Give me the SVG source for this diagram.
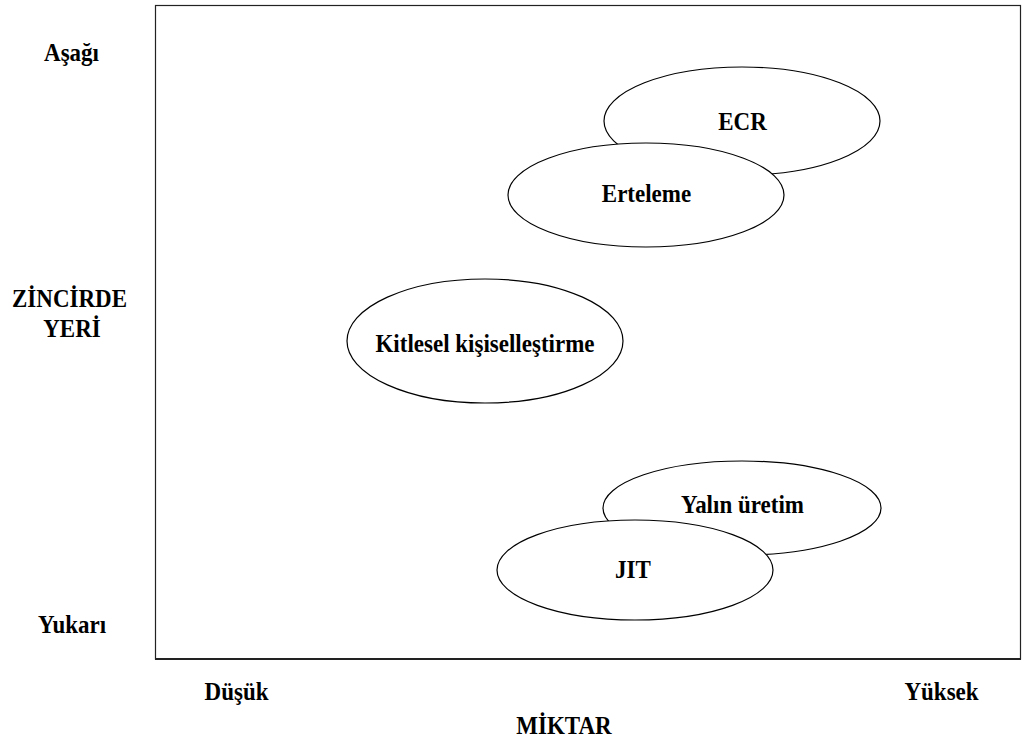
<svg xmlns="http://www.w3.org/2000/svg" width="1025" height="744" viewBox="0 0 1025 744">
  <style>
    text { font-family: "Liberation Serif", "Times New Roman", serif; font-weight: 700; font-size: 25px; fill: #000; text-anchor: middle; }
    .bubble { fill: #fff; stroke: #000; stroke-width: 1.2; }
    .frame { fill: none; stroke: #222; stroke-width: 1.2; }
  </style>
  <rect width="1025" height="744" fill="#fff"/>

  <!-- plot frame -->
  <g id="frame">
    <rect class="frame" x="155.5" y="5.5" width="865" height="653.5"/>
    <line x1="155" y1="659" x2="1021" y2="659" stroke="#222" stroke-width="2"/>
  </g>

  <!-- axis labels (slightly condensed bold serif) -->
  <g id="y-axis">
    <text transform="translate(71.5,61) scale(0.92,1)">Aşağı</text>
    <text transform="translate(69.5,307) scale(0.92,1)">ZİNCİRDE</text>
    <text transform="translate(72,337) scale(0.92,1)">YERİ</text>
    <text transform="translate(72,633) scale(0.92,1)">Yukarı</text>
  </g>
  <g id="x-axis">
    <text transform="translate(236.5,700) scale(0.92,1)">Düşük</text>
    <text transform="translate(941.5,700) scale(0.92,1)">Yüksek</text>
    <text transform="translate(564,734) scale(0.92,1)">MİKTAR</text>
  </g>

  <!-- strategy bubbles (later ones overlap earlier ones) -->
  <g id="ecr">
    <ellipse class="bubble" cx="742" cy="121" rx="138" ry="54"/>
    <text transform="translate(742.5,130) scale(0.92,1)">ECR</text>
  </g>
  <g id="erteleme">
    <ellipse class="bubble" cx="646" cy="195" rx="138" ry="52"/>
    <text transform="translate(646.5,202) scale(0.92,1)">Erteleme</text>
  </g>
  <g id="kitlesel">
    <ellipse class="bubble" cx="485" cy="341" rx="138" ry="62"/>
    <text transform="translate(485,352) scale(0.92,1)">Kitlesel kişiselleştirme</text>
  </g>
  <g id="yalin">
    <ellipse class="bubble" cx="742" cy="508" rx="139" ry="47"/>
    <text transform="translate(742.5,513) scale(0.92,1)">Yalın üretim</text>
  </g>
  <g id="jit">
    <ellipse class="bubble" cx="635" cy="570" rx="138" ry="50"/>
    <text transform="translate(633,578) scale(0.92,1)">JIT</text>
  </g>

  <g id="connectors"></g>
</svg>
